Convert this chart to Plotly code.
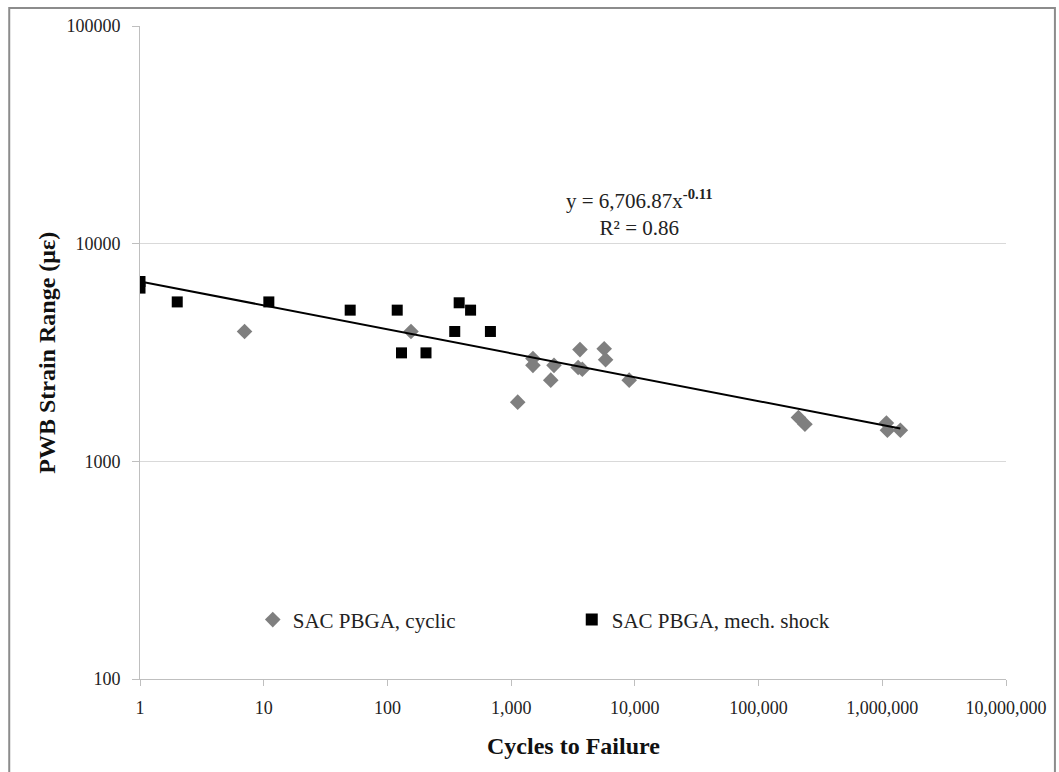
import numpy as np
import plotly.graph_objects as go

# Data
cyclic_cycles = [7, 155, 1130, 1500, 1500, 2090, 2220, 3600, 3480, 3760, 5650, 5800, 9000,
                 210000, 237000, 1080000, 1100000, 1400000]
cyclic_strain = [3950, 3950, 1870, 2970, 2760, 2360, 2760, 3260, 2700, 2650, 3290, 2930, 2360,
                 1590, 1480, 1500, 1390, 1390]

shock_cycles = [1, 1, 2, 11, 50, 120, 130, 205, 350, 380, 470, 680]
shock_strain = [6700, 6250, 5400, 5400, 4950, 4950, 3150, 3150, 3950, 5350, 4950, 3950]

fit_coef = 6706.87
fit_exp = -0.11
fit_r2 = 0.86

x_tickvals = [1, 10, 100, 1000, 10000, 100000, 1000000, 10000000]
x_ticktext = ["1", "10", "100", "1,000", "10,000", "100,000", "1,000,000", "10,000,000"]
y_tickvals = [100, 1000, 10000, 100000]
y_ticktext = ["100", "1000", "10000", "100000"]

all_x = cyclic_cycles + shock_cycles
fit_x = np.logspace(np.log10(min(all_x)), np.log10(max(all_x)), 50)
fit_y = fit_coef * fit_x ** fit_exp

FONT = "Liberation Serif, Times New Roman, serif"
TXT = "#222222"

fig = go.Figure()
fig.add_trace(go.Scatter(
    x=cyclic_cycles, y=cyclic_strain, mode="markers", name="SAC PBGA, cyclic",
    marker=dict(symbol="diamond", size=12, color="#7f7f7f", line=dict(width=0)),
))
fig.add_trace(go.Scatter(
    x=shock_cycles, y=shock_strain, mode="markers", name="SAC PBGA, mech. shock",
    marker=dict(symbol="square", size=11, color="#000000", line=dict(width=0)),
))
fig.add_trace(go.Scatter(
    x=fit_x, y=fit_y, mode="lines", showlegend=False, hoverinfo="skip",
    line=dict(color="#000000", width=2),
))

fig.update_layout(
    width=1059, height=772,
    margin=dict(l=140, r=51, t=26, b=93),
    paper_bgcolor="white", plot_bgcolor="white",
    font=dict(family=FONT, size=18, color=TXT),
    showlegend=True,
    legend=dict(
        orientation="h", x=0.1302, y=0.0904, xanchor="left", yanchor="middle",
        font=dict(family=FONT, size=21, color=TXT),
        entrywidth=274, entrywidthmode="pixels",
        bgcolor="rgba(0,0,0,0)", itemsizing="constant",
    ),
    xaxis=dict(
        type="log", range=[0, 7],
        tickvals=x_tickvals, ticktext=x_ticktext,
        showgrid=False, zeroline=False,
        showline=True, linecolor="#bfbfbf", linewidth=1,
        ticks="outside", ticklen=6, tickcolor="#bfbfbf",
        ticklabelstandoff=6,
        tickfont=dict(family=FONT, size=18, color=TXT),
    ),
    yaxis=dict(
        type="log", range=[2, 5],
        tickvals=y_tickvals, ticktext=y_ticktext,
        showgrid=True, gridcolor="#d9d9d9", gridwidth=1,
        zeroline=False,
        showline=True, linecolor="#bfbfbf", linewidth=1,
        ticks="outside", ticklen=7, tickcolor="#bfbfbf",
        ticklabelstandoff=8,
        tickfont=dict(family=FONT, size=18, color=TXT),
    ),
    annotations=[
        dict(xref="paper", yref="paper", x=0.577, y=0.7136, xanchor="center", yanchor="middle",
             text="y = 6,706.87x<sup><b>-0.11</b></sup><br>R² = 0.86", showarrow=False,
             align="center", font=dict(family=FONT, size=21, color=TXT)),
        dict(xref="paper", yref="paper", x=0.5, y=-0.1026, xanchor="center", yanchor="middle",
             text="<b>Cycles to Failure</b>", showarrow=False,
             font=dict(family=FONT, size=24, color="#111111")),
        dict(xref="paper", yref="paper", x=-0.1083, y=0.5, xanchor="center", yanchor="middle",
             text="<b>PWB Strain Range (με)</b>", showarrow=False, textangle=-90,
             font=dict(family=FONT, size=24, color="#111111")),
    ],
    shapes=[
        dict(type="rect", xref="paper", yref="paper",
             x0=-0.151, x1=1.0565, y0=-0.16, y1=1.0276,
             line=dict(color="#8c8c8c", width=2), fillcolor="rgba(0,0,0,0)", layer="below"),
    ],
)

fig.write_html("out.html")
